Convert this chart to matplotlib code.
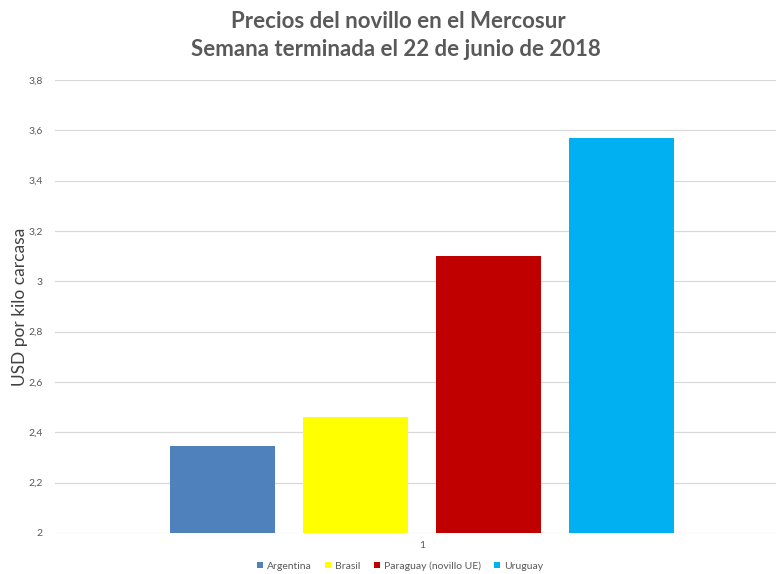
import numpy as np
import matplotlib.pyplot as plt

# Data
countries = ['Argentina', 'Brasil', 'Paraguay (novillo UE)', 'Uruguay']
prices = [2.345, 2.46, 3.10, 3.57]
colors = ['#4f81bd', '#ffff00', '#c00000', '#00b0f0']
yticks = [2, 2.2, 2.4, 2.6, 2.8, 3, 3.2, 3.4, 3.6, 3.8]
ytick_labels = ['2', '2,2', '2,4', '2,6', '2,8', '3', '3,2', '3,4', '3,6', '3,8']

plt.rcParams['font.family'] = ['Lato', 'DejaVu Sans']

fig = plt.figure(figsize=(7.76, 5.74), dpi=100)
W, H = 776, 574
ax = fig.add_axes([55 / W, (H - 533) / H, (789 - 55) / W, (533 - 80) / H])

bar_w = 0.143
step = 0.181
offsets = (np.arange(len(countries)) - 1.5) * step
for off, val, col, name in zip(offsets, prices, colors, countries):
    ax.bar(off, val - 2, bottom=2, width=bar_w, color=col, label=name, zorder=3)

ax.set_xlim(-0.5, 0.5)
ax.set_ylim(2, 3.8)
ax.set_yticks(yticks)
ax.set_yticklabels(ytick_labels)
ax.set_xticks([0])
ax.set_xticklabels(['1'])
ax.tick_params(axis='both', length=0, labelsize=7.5, labelcolor='#595959')
ax.tick_params(axis='y', pad=9)
ax.tick_params(axis='x', pad=6)
ax.grid(axis='y', color='#d9d9d9', linewidth=0.9, zorder=0)
for s in ax.spines.values():
    s.set_visible(False)

ax.set_ylabel('USD por kilo carcasa', fontsize=12.5, color='#404040')
ax.yaxis.set_label_coords(-27 / 734, 0.5)

fig.text(398 / W, 1 - 22 / H, 'Precios del novillo en el Mercosur', ha='center', va='center',
         fontsize=16, fontweight='bold', color='#595959')
fig.text(396 / W, 1 - 50 / H, 'Semana terminada el 22 de junio de 2018', ha='center', va='center',
         fontsize=16, fontweight='bold', color='#595959')

ax.legend(loc='center', bbox_to_anchor=(400 / W, 1 - 566 / H), bbox_transform=fig.transFigure,
          ncol=4, frameon=False, fontsize=7.5, labelcolor='#595959', handlelength=0.6,
          handleheight=0.6, handletextpad=0.35, columnspacing=1.3, borderpad=0.2)

fig.savefig('out.png', dpi=100)
